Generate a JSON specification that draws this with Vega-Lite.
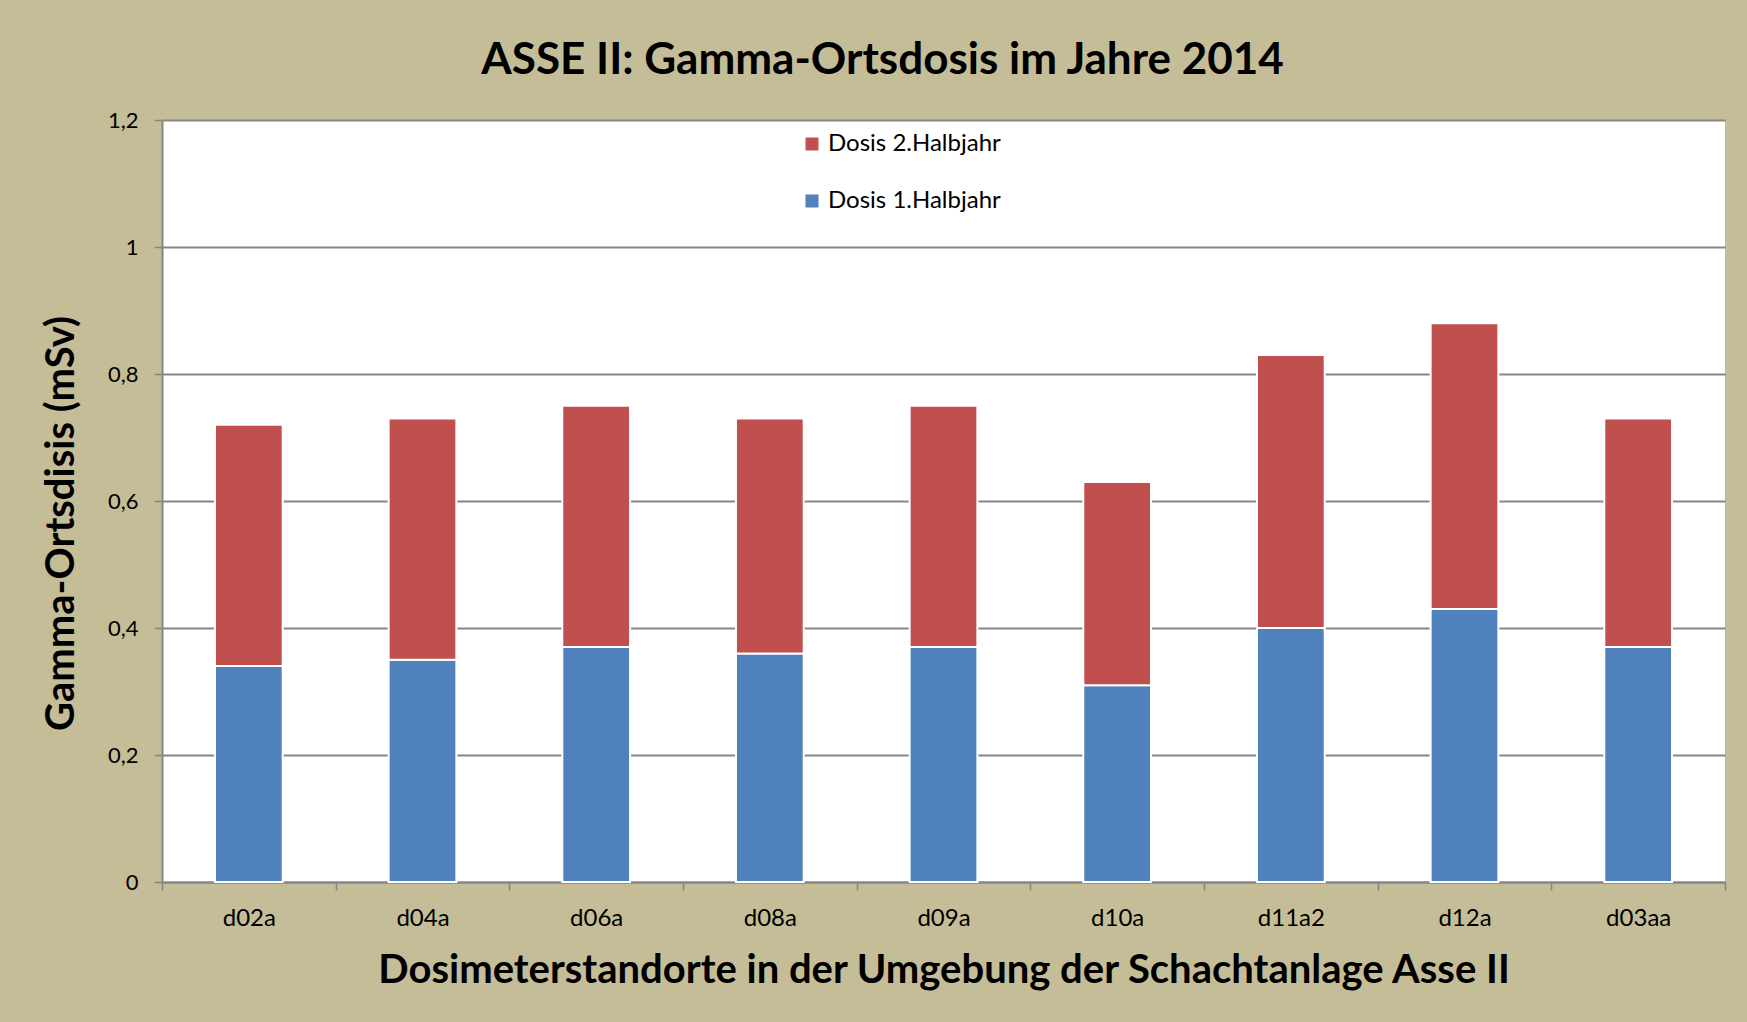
{
  "$schema": "https://vega.github.io/schema/vega-lite/v6.json",
  "width": 1563,
  "height": 762,
  "autosize": "none",
  "padding": {"left": 162, "top": 120, "right": 22, "bottom": 140},
  "background": "#C4BD97",
  "title": {
    "text": "ASSE II: Gamma-Ortsdosis im Jahre 2014",
    "font": "Lato",
    "fontSize": 44,
    "fontWeight": "bold",
    "color": "black",
    "anchor": "middle",
    "dx": -61,
    "offset": 26
  },
  "config": {
    "view": {"fill": "white", "stroke": null},
    "font": "Lato"
  },
  "data": {
    "values": [
      {"ort": "d02a", "serie": "Dosis 1.Halbjahr", "hj": 1, "dosis": 0.34},
      {"ort": "d02a", "serie": "Dosis 2.Halbjahr", "hj": 2, "dosis": 0.38},
      {"ort": "d04a", "serie": "Dosis 1.Halbjahr", "hj": 1, "dosis": 0.35},
      {"ort": "d04a", "serie": "Dosis 2.Halbjahr", "hj": 2, "dosis": 0.38},
      {"ort": "d06a", "serie": "Dosis 1.Halbjahr", "hj": 1, "dosis": 0.37},
      {"ort": "d06a", "serie": "Dosis 2.Halbjahr", "hj": 2, "dosis": 0.38},
      {"ort": "d08a", "serie": "Dosis 1.Halbjahr", "hj": 1, "dosis": 0.36},
      {"ort": "d08a", "serie": "Dosis 2.Halbjahr", "hj": 2, "dosis": 0.37},
      {"ort": "d09a", "serie": "Dosis 1.Halbjahr", "hj": 1, "dosis": 0.37},
      {"ort": "d09a", "serie": "Dosis 2.Halbjahr", "hj": 2, "dosis": 0.38},
      {"ort": "d10a", "serie": "Dosis 1.Halbjahr", "hj": 1, "dosis": 0.31},
      {"ort": "d10a", "serie": "Dosis 2.Halbjahr", "hj": 2, "dosis": 0.32},
      {"ort": "d11a2", "serie": "Dosis 1.Halbjahr", "hj": 1, "dosis": 0.40},
      {"ort": "d11a2", "serie": "Dosis 2.Halbjahr", "hj": 2, "dosis": 0.43},
      {"ort": "d12a", "serie": "Dosis 1.Halbjahr", "hj": 1, "dosis": 0.43},
      {"ort": "d12a", "serie": "Dosis 2.Halbjahr", "hj": 2, "dosis": 0.45},
      {"ort": "d03aa", "serie": "Dosis 1.Halbjahr", "hj": 1, "dosis": 0.37},
      {"ort": "d03aa", "serie": "Dosis 2.Halbjahr", "hj": 2, "dosis": 0.36}
    ]
  },
  "mark": {"type": "bar", "stroke": "white", "strokeWidth": 2, "width": {"band": 0.39}},
  "encoding": {
    "x": {
      "field": "ort",
      "type": "nominal",
      "sort": null,
      "scale": {"paddingInner": 0, "paddingOuter": 0},
      "axis": {
        "title": "Dosimeterstandorte in der Umgebung der Schachtanlage Asse II",
        "titleFont": "Lato",
        "titleFontSize": 40,
        "titleFontWeight": "bold",
        "titleColor": "black",
        "titlePadding": 20,
        "labelAngle": 0,
        "labelFont": "Lato",
        "labelFontSize": 24,
        "labelColor": "black",
        "labelPadding": 16,
        "tickBand": "extent",
        "tickSize": 8,
        "tickColor": "#868686",
        "tickWidth": 1.5,
        "domainColor": "#868686",
        "domainWidth": 2
      }
    },
    "y": {
      "field": "dosis",
      "type": "quantitative",
      "stack": "zero",
      "scale": {"domain": [0, 1.2], "nice": false},
      "axis": {
        "title": "Gamma-Ortsdisis (mSv)",
        "titleFont": "Lato",
        "titleFontSize": 40,
        "titleFontWeight": "bold",
        "titleColor": "black",
        "titlePadding": 26,
        "titleY": 403,
        "values": [0, 0.2, 0.4, 0.6, 0.8, 1, 1.2],
        "labelExpr": "replace(format(datum.value, ''), '.', ',')",
        "labelFont": "Lato",
        "labelFontSize": 22,
        "labelColor": "black",
        "labelPadding": 16,
        "tickSize": 8,
        "tickColor": "#868686",
        "tickWidth": 1.5,
        "grid": true,
        "gridColor": "#868686",
        "gridWidth": 2,
        "domainColor": "#868686",
        "domainWidth": 2
      }
    },
    "color": {
      "field": "serie",
      "type": "nominal",
      "scale": {
        "domain": ["Dosis 2.Halbjahr", "Dosis 1.Halbjahr"],
        "range": ["#C0504D", "#4F81BD"]
      },
      "legend": {
        "title": null,
        "orient": "none",
        "legendX": 638,
        "legendY": 12,
        "symbolType": "square",
        "symbolSize": 169,
        "symbolStrokeWidth": 0,
        "labelFont": "Lato",
        "labelFontSize": 24,
        "labelColor": "black",
        "labelLimit": 0,
        "labelOffset": 4,
        "rowPadding": 33
      }
    },
    "order": {"field": "hj", "type": "quantitative"}
  }
}
